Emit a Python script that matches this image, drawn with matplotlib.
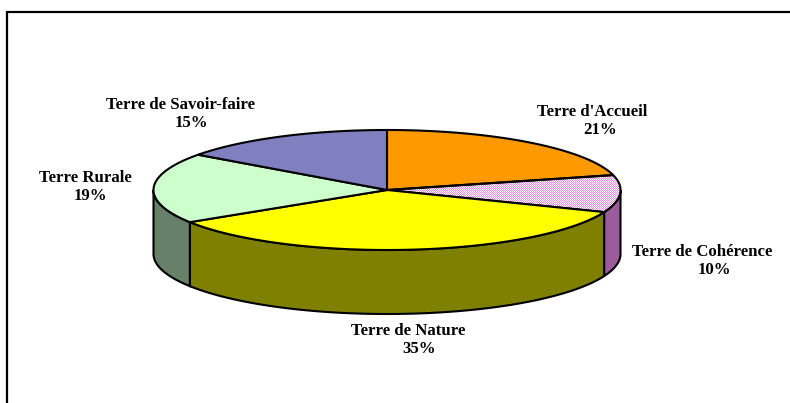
import numpy as np
import matplotlib
matplotlib.use('Agg')
import matplotlib.pyplot as plt
from matplotlib.patches import Polygon

labels = ["Terre d'Accueil", "Terre de Cohérence", "Terre de Nature", "Terre Rurale", "Terre de Savoir-faire"]
values = [21, 10, 35, 19, 15]
top_colors = ['#FF9900', None, '#FFFF00', '#CCFFCC', '#8080C0']
side_colors = ['#B36B00', '#9C5C9C', '#808000', '#66806A', '#5A5A86']
# name centre x, percent centre x, name line y
label_pos = [(592, 600, 112), (702, 714, 252), (408, 419, 331), (85, 90, 178), (181, 191, 105)]

cx, cy = 387, 190
rx, ry = 233.5, 60
depth = 64


def pt(a):
    # angle in degrees, clockwise from 12 o'clock
    a = np.radians(a)
    return cx + rx * np.sin(a), cy - ry * np.cos(a)


def arc(a0, a1):
    t = np.linspace(a0, a1, 120)
    x, y = pt(t)
    return np.column_stack([x, y])


fig = plt.figure(figsize=(7.9, 4.03), dpi=100)
ax = fig.add_axes([0, 0, 1, 1])
ax.set_xlim(0, 790)
ax.set_ylim(403, 0)
ax.axis('off')

# frame, open at the right and bottom edges
ax.plot([7, 7, 790], [403, 12, 12], color='black', lw=1.6, solid_joinstyle='miter', clip_on=False)

edges = np.cumsum([0] + values) * 3.6

# sides first: only the front half of the rim shows
for i in range(len(values)):
    a0, a1 = max(edges[i], 90), min(edges[i + 1], 270)
    if a1 <= a0:
        continue
    rim = arc(a0, a1)
    side = np.vstack([rim, (rim + [0, depth])[::-1]])
    ax.add_patch(Polygon(side, closed=True, fc=side_colors[i], ec='black', lw=1.5, zorder=2))

# top of the pie
for i in range(len(values)):
    wedge = np.vstack([[cx, cy], arc(edges[i], edges[i + 1])])
    if top_colors[i] is None:
        # fine pink/white dither for the hatched slice
        poly = Polygon(wedge, closed=True, fc='none', ec='none', transform=ax.transData)
        ax.add_patch(poly)
        yy, xx = np.mgrid[0:403, 0:790]
        check = ((xx + yy) % 2).astype(float)
        rgb = np.where(check[..., None] > 0, [1.0, 1.0, 1.0], [0.93, 0.55, 0.93])
        im = ax.imshow(rgb, extent=(0, 790, 403, 0), interpolation='nearest', aspect='auto', zorder=3)
        im.set_clip_path(poly)
        ax.add_patch(Polygon(wedge, closed=True, fc='none', ec='black', lw=1.5, zorder=4))
    else:
        ax.add_patch(Polygon(wedge, closed=True, fc=top_colors[i], ec='black', lw=1.5, zorder=4))

ax.set_xlim(0, 790)
ax.set_ylim(403, 0)

for name, v, (x_name, x_pct, y) in zip(labels, values, label_pos):
    ax.text(x_name, y, name, ha='center', va='center', family='Liberation Serif',
            fontweight='bold', fontsize=12.1, color='black', zorder=5)
    ax.text(x_pct, y + 18, f'{v}%', ha='center', va='center', family='Liberation Serif',
            fontweight='bold', fontsize=12.1, color='black', zorder=5)

fig.savefig('out.png', dpi=100)
